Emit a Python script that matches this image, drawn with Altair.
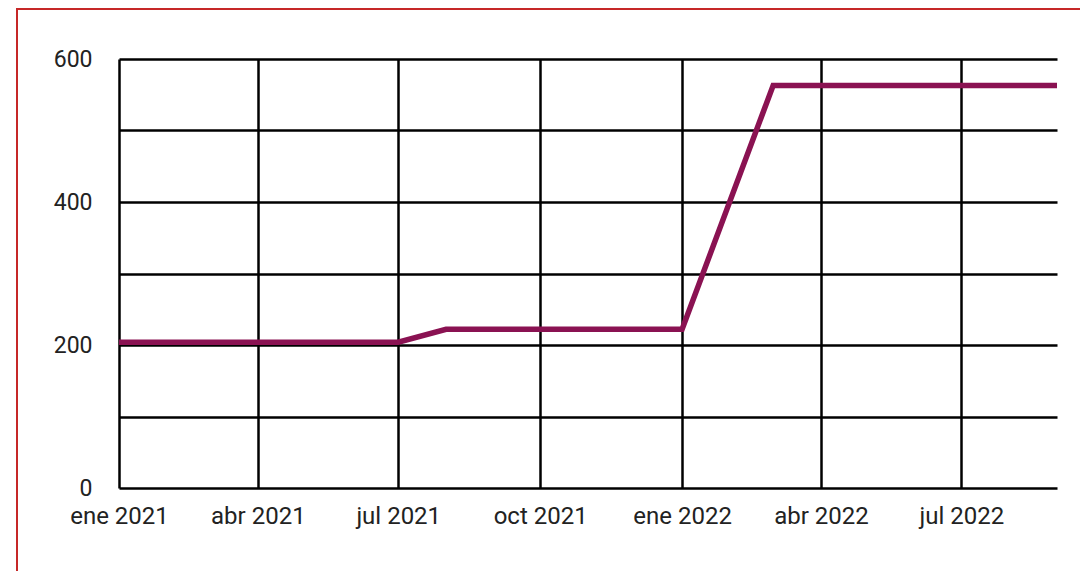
import altair as alt
import pandas as pd

months = [
    "2021-01-01", "2021-02-01", "2021-03-01", "2021-04-01", "2021-05-01", "2021-06-01", "2021-07-01",
    "2021-08-01", "2021-09-01", "2021-10-01", "2021-11-01", "2021-12-01", "2022-01-01",
    "2022-03-01", "2022-04-01", "2022-05-01", "2022-06-01", "2022-07-01", "2022-08-01", "2022-09-01",
]
values = [
    204, 204, 204, 204, 204, 204, 204,
    222, 222, 222, 222, 222, 222,
    563, 563, 563, 563, 563, 563, 563,
]
x_ticks = [(2021, 1), (2021, 4), (2021, 7), (2021, 10), (2022, 1), (2022, 4), (2022, 7)]
y_ticks = [0, 100, 200, 300, 400, 500, 600]

df = pd.DataFrame({"fecha": months, "valor": values})

tick_dates = [alt.DateTime(year=y, month=m, date=1, utc=True) for y, m in x_ticks]
x_domain = [alt.DateTime(year=2021, month=1, date=1, utc=True),
            alt.DateTime(year=2022, month=9, date=1, utc=True)]

month_expr = ("['ene','feb','mar','abr','may','jun','jul','ago','sep','oct','nov','dic']"
              "[utcmonth(datum.value)] + ' ' + utcyear(datum.value)")

line = alt.Chart(df).mark_line(color="#8A1252", strokeWidth=5.5, strokeJoin="miter").encode(
    x=alt.X("fecha:T",
            scale=alt.Scale(type="utc", domain=x_domain),
            axis=alt.Axis(values=tick_dates, labelExpr=month_expr, title=None,
                          grid=True, gridColor="#000000", gridWidth=2.5, gridOpacity=1,
                          ticks=False, domain=False, labelPadding=16,
                          labelFontSize=24, labelFont="Roboto", labelColor="#222222",
                          labelFlush=False, labelOverlap=False)),
    y=alt.Y("valor:Q",
            scale=alt.Scale(domain=[0, 600], nice=False),
            axis=alt.Axis(values=y_ticks,
                          labelExpr="datum.value % 200 == 0 ? datum.label : ''",
                          title=None, grid=True, gridColor="#000000", gridWidth=2.5,
                          gridOpacity=1, ticks=False, domain=False, labelPadding=27,
                          labelFontSize=23, labelFont="Roboto", labelColor="#222222",
                          labelFlush=False, labelOverlap=False)),
)

border = alt.Chart(pd.DataFrame({"a": [0]})).mark_rect(
    fill=None, stroke="#C62828", strokeWidth=2
).encode(
    x=alt.value(-102), x2=alt.value(1000), y=alt.value(-50), y2=alt.value(600)
)

chart = alt.layer(border, line).properties(
    width=938, height=429,
    autosize=alt.AutoSizeParams(type="none"),
    padding={"left": 111, "top": 51, "right": 23, "bottom": 83},
).configure_view(stroke=None)

chart.save("out.html", embed_options={"renderer": "svg", "actions": False})
